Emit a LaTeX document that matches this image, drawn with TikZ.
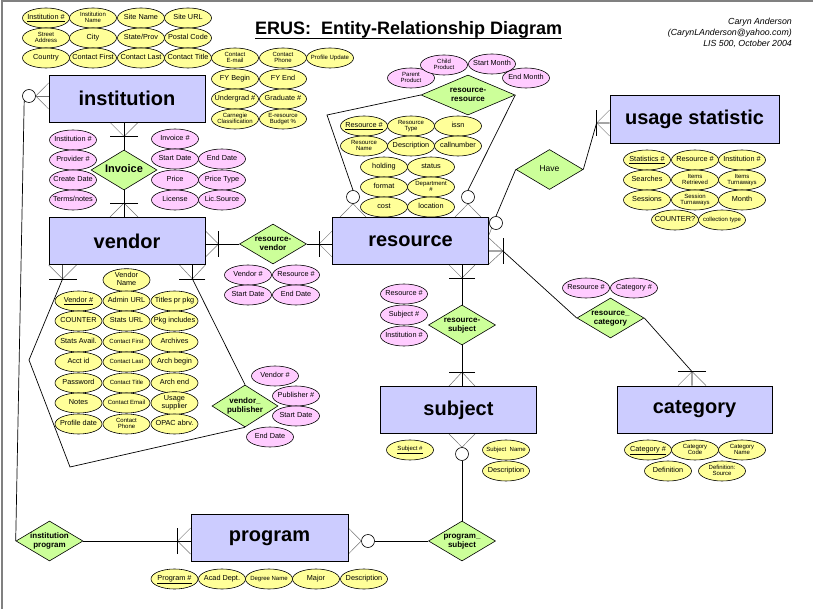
\documentclass[tikz,border=0pt]{standalone}
\usepackage{fontspec}
\setmainfont{Liberation Sans}
\usetikzlibrary{shapes.geometric,calc}
\definecolor{attrY}{HTML}{FFFF99}
\definecolor{attrP}{HTML}{FFCCFF}
\definecolor{entC}{HTML}{CCCCFF}
\definecolor{relC}{HTML}{CCFF99}
\pgfdeclarelayer{bg}
\pgfdeclarelayer{paper}
\pgfsetlayers{paper,bg,main}
\newcommand\zc[1]{\makebox[0pt]{\begin{tabular}{@{}c@{}}#1\end{tabular}}}
\newcommand\zs[1]{\makebox[0pt]{\fontsize{6}{6.6}\selectfont\begin{tabular}{@{}c@{}}#1\end{tabular}}}
\newcommand\cfoot[3]{\draw[cf] ($(#1)+(#3)$) -- (#2) -- ($(#1)-(#3)$); \draw[conn] ($(#2)+(#3)$) -- ($(#2)-(#3)$);}
\newcommand\cfootnb[3]{\draw[cf] ($(#1)+(#3)$) -- (#2) -- ($(#1)-(#3)$);}
\begin{document}
\begin{tikzpicture}[x=1pt,y=-1pt,
 attr/.style={ellipse, draw, line width=0.6pt, minimum width=47pt, minimum height=20pt, inner sep=0pt, font=\fontsize{7.3}{8}\selectfont},
 ya/.style={attr, fill=attrY}, pa/.style={attr, fill=attrP},
 ent/.style={rectangle, draw, line width=0.8pt, fill=entC, minimum width=156pt, minimum height=47pt, inner sep=0pt, font=\fontsize{20}{22}\selectfont\bfseries},
 rel/.style={diamond, draw, line width=0.6pt, fill=relC, minimum width=67pt, minimum height=40pt, inner sep=0pt, font=\fontsize{8}{9}\selectfont\bfseries},
 conn/.style={line width=0.7pt, draw=black},
 cf/.style={line width=0.5pt, draw=black!55},
 zerocirc/.style={circle, draw, line width=0.6pt, fill=white, minimum size=13pt, inner sep=0pt},
]
\useasboundingbox (0,0) rectangle (813,609);
\begin{pgfonlayer}{paper}
\fill[white] (0,0) rectangle (813,609);
\draw[gray, line width=1.6pt] (2,609) -- (2,1) -- (813,1);
\end{pgfonlayer}

% title and author
\node[anchor=base west, inner sep=0pt, font=\fontsize{18}{20}\selectfont\bfseries] (title) at (255,35) {ERUS:\ \ Entity-Relationship Diagram};
\draw[line width=1.3pt] ($(title.base west)+(0,3.5)$) -- ($(title.base east)+(0,3.5)$);
\node[anchor=base east, inner sep=0pt, font=\fontsize{8.8}{10}\selectfont\itshape] (au1) at (792,24.8) {Caryn Anderson};
\node[anchor=base east, inner sep=0pt, font=\fontsize{8.8}{10}\selectfont\itshape] (au2) at (792,35.8) {(CarynLAnderson@yahoo.com)};
\node[anchor=base east, inner sep=0pt, font=\fontsize{8.8}{10}\selectfont\itshape] (au3) at (792,46.6) {LIS 500, October 2004};

% institution attributes
\node[ya] (a1) at (46,18) {\zc{\underline{Institution \#}}};
\node[ya] (a2) at (93,18) {\zs{Institution\\Name}};
\node[ya] (a3) at (141,18) {\zc{Site Name}};
\node[ya] (a4) at (188,18) {\zc{Site URL}};
\node[ya] (a5) at (46,38) {\zs{Street\\Address}};
\node[ya] (a6) at (93,38) {\zc{City}};
\node[ya] (a7) at (141,38) {\zc{State/Prov}};
\node[ya] (a8) at (188,38) {\zc{Postal Code}};
\node[ya] (a9) at (46,58) {\zc{Country}};
\node[ya] (a10) at (93,58) {\zc{Contact First}};
\node[ya] (a11) at (141,58) {\zc{Contact Last}};
\node[ya] (a12) at (188,58) {\zc{Contact Title}};
\node[ya] (a13) at (235,58) {\zs{Contact\\E-mail}};
\node[ya] (a14) at (283,58) {\zs{Contact\\Phone}};
\node[ya] (a15) at (330,58) {\zs{Profile Update}};
\node[ya] (a16) at (235,79) {\zc{FY Begin}};
\node[ya] (a17) at (283,79) {\zc{FY End}};
\node[ya] (a18) at (235,99) {\zc{Undergrad \#}};
\node[ya] (a19) at (283,99) {\zc{Graduate \#}};
\node[ya] (a20) at (235,119) {\zs{Carnegie\\Classification}};
\node[ya] (a21) at (283,119) {\zs{E-resource\\Budget \%}};

% invoice attributes
\node[pa] (b1) at (73,140) {\zc{Institution \#}};
\node[pa] (b2) at (73,160) {\zc{Provider \#}};
\node[pa] (b3) at (73,180) {\zc{Create Date}};
\node[pa] (b4) at (73,200) {\zc{Terms/notes}};
\node[pa] (b5) at (175,139) {\zc{Invoice \#}};
\node[pa] (b6) at (175,159) {\zc{Start Date}};
\node[pa] (b7) at (222,159) {\zc{End Date}};
\node[pa] (b8) at (175,180) {\zc{Price}};
\node[pa] (b9) at (222,180) {\zc{Price Type}};
\node[pa] (b10) at (175,200) {\zc{License}};
\node[pa] (b11) at (222,200) {\zc{Lic.Source}};

% resource attributes
\node[ya] (r1) at (364,126) {\zc{\underline{Resource \#}}};
\node[ya] (r2) at (411,126) {\zs{Resource\\Type}};
\node[ya] (r3) at (458,126) {\zc{issn}};
\node[ya] (r4) at (364,146) {\zs{Resource\\Name}};
\node[ya] (r5) at (411,146) {\zc{Description}};
\node[ya] (r6) at (458,146) {\zc{callnumber}};
\node[ya] (r7) at (384,167) {\zc{holding}};
\node[ya] (r8) at (431,167) {\zc{status}};
\node[ya] (r9) at (384,187) {\zc{format}};
\node[ya] (r10) at (431,187) {\zs{Department\\\#}};
\node[ya] (r11) at (384,207) {\zc{cost}};
\node[ya] (r12) at (431,207) {\zc{location}};

% resource-resource attributes
\node[pa] (q1) at (411,78) {\zs{Parent\\Product}};
\node[pa] (q2) at (444,65) {\zs{Child\\Product}};
\node[pa] (q3) at (492,64) {\zc{Start Month}};
\node[pa] (q4) at (526,78) {\zc{End Month}};

% usage statistic attributes
\node[ya] (u1) at (647,160) {\zc{\underline{Statistics \#}}};
\node[ya] (u2) at (695,160) {\zc{Resource \#}};
\node[ya] (u3) at (742,160) {\zc{Institution \#}};
\node[ya] (u4) at (647,180) {\zc{Searches}};
\node[ya] (u5) at (695,180) {\zs{Items\\Retrieved}};
\node[ya] (u6) at (742,180) {\zs{Items\\Turnaways}};
\node[ya] (u7) at (647,200) {\zc{Sessions}};
\node[ya] (u8) at (695,200) {\zs{Session\\Turnaways}};
\node[ya] (u9) at (742,200) {\zc{Month}};
\node[ya] (u10) at (675,220) {\zc{COUNTER?}};
\node[ya] (u11) at (722,220) {\zs{collection type}};

% resource-vendor attributes
\node[pa] (v1) at (248,275) {\zc{Vendor \#}};
\node[pa] (v2) at (296,275) {\zc{Resource \#}};
\node[pa] (v3) at (248,295) {\zc{Start Date}};
\node[pa] (v4) at (296,295) {\zc{End Date}};

% vendor attributes
\node[ya] (w1) at (126.5,280) {\zc{Vendor\\Name}};
\node[ya] (w2) at (78.5,301) {\zc{\underline{Vendor \#}}};
\node[ya] (w3) at (126.5,301) {\zc{Admin URL}};
\node[ya] (w4) at (174.5,301) {\zc{Titles pr pkg}};
\node[ya] (w5) at (78.5,321) {\zc{COUNTER}};
\node[ya] (w6) at (126.5,321) {\zc{Stats URL}};
\node[ya] (w7) at (174.5,321) {\zc{Pkg includes}};
\node[ya] (w8) at (78.5,342) {\zc{Stats Avail.}};
\node[ya] (w9) at (126.5,342) {\zs{Contact First}};
\node[ya] (w10) at (174.5,342) {\zc{Archives}};
\node[ya] (w11) at (78.5,362) {\zc{Acct id}};
\node[ya] (w12) at (126.5,362) {\zs{Contact Last}};
\node[ya] (w13) at (174.5,362) {\zc{Arch begin}};
\node[ya] (w14) at (78.5,383) {\zc{Password}};
\node[ya] (w15) at (126.5,383) {\zs{Contact Title}};
\node[ya] (w16) at (174.5,383) {\zc{Arch end}};
\node[ya] (w17) at (78.5,403) {\zc{Notes}};
\node[ya] (w18) at (126.5,403) {\zs{Contact Email}};
\node[ya] (w19) at (174.5,403) {\zc{Usage\\supplier}};
\node[ya] (w20) at (78.5,424) {\zc{Profile date}};
\node[ya] (w21) at (126.5,424) {\zs{Contact\\Phone}};
\node[ya] (w22) at (174.5,424) {\zc{OPAC abrv.}};

% vendor_publisher attributes
\node[pa] (p1) at (275,376) {\zc{Vendor \#}};
\node[pa] (p2) at (296,396) {\zc{Publisher \#}};
\node[pa] (p3) at (296,416) {\zc{Start Date}};
\node[pa] (p4) at (270,437) {\zc{End Date}};

% resource-subject attributes
\node[pa] (s1) at (404,294) {\zc{Resource \#}};
\node[pa] (s2) at (404,315) {\zc{Subject \#}};
\node[pa] (s3) at (404,336) {\zc{Institution \#}};

% resource_category attributes
\node[pa] (k1) at (586,288) {\zc{Resource \#}};
\node[pa] (k2) at (634,288) {\zc{Category \#}};

% subject attributes
\node[ya] (j1) at (410,450) {\zs{\underline{Subject \#}}};
\node[ya] (j2) at (506,450) {\zs{Subject\ \ Name}};
\node[ya] (j3) at (506,471) {\zc{Description}};

% category attributes
\node[ya] (g1) at (648,450) {\zc{\underline{Category \#}}};
\node[ya] (g2) at (695,450) {\zs{Category\\Code}};
\node[ya] (g3) at (742,450) {\zs{Category\\Name}};
\node[ya] (g4) at (668,471) {\zc{Definition}};
\node[ya] (g5) at (722,471) {\zs{Definition:\\Source}};

% program attributes
\node[ya] (m1) at (174.5,579) {\zc{\underline{Program \#}}};
\node[ya] (m2) at (222,579) {\zc{Acad Dept.}};
\node[ya] (m3) at (269,579) {\zs{Degree Name}};
\node[ya] (m4) at (316,579) {\zc{Major}};
\node[ya] (m5) at (364,579) {\zc{Description}};

% entities
\node[ent] (inst) at (127,98.5) {institution};
\node[ent] (vend) at (127,241) {vendor};
\node[ent] (res) at (410.5,241) {resource};
\node[ent, minimum width=169pt, minimum height=48pt] (usage) at (694.5,119) {usage statistic};
\node[ent] (subj) at (458.5,410) {subject};
\node[ent, minimum width=155pt] (cat) at (694.5,409.5) {category};
\node[ent, minimum width=157pt] (prog) at (269.5,538) {program};

% relationships
\node[rel, minimum width=66pt, font=\fontsize{11}{12}\selectfont\bfseries] (inv) at (124,170) {\zc{Invoice}};
\node[rel] (rv) at (273,244) {\zc{resource-\\vendor}};
\node[rel, minimum width=94pt] (rr) at (468,95) {\zc{resource-\\resource}};
\node[rel, font=\fontsize{8.5}{9}\selectfont] (have) at (549.5,169.5) {\zc{Have}};
\node[rel] (rs) at (462,325) {\zc{resource-\\subject}};
\node[rel] (rc) at (610.5,318) {\zc{resource\_\\category}};
\node[rel, minimum width=66pt, minimum height=42pt] (vp) at (245,406) {\zc{vendor\_\\publisher}};
\node[rel] (ip) at (49.5,541) {\zc{institution\\program}};
\node[rel] (ps) at (462,541) {\zc{program\_\\subject}};

% optional-end circles
\node[zerocirc] (c1) at (29,96) {};
\node[zerocirc] (c2) at (353,197) {};
\node[zerocirc] (c3) at (468,197) {};
\node[zerocirc] (c4) at (496,223) {};
\node[zerocirc] (c5) at (462,454) {};
\node[zerocirc] (c6) at (368,541) {};

\begin{pgfonlayer}{bg}
% institution - invoice - vendor
\coordinate (e1) at (inv.north |- inst.south);
\coordinate (t1) at ($(e1)+(0,14)$);
\cfoot{e1}{t1}{14,0}
\draw[conn] (inv.north) -- (e1);
\coordinate (e2) at (inv.south |- vend.north);
\coordinate (t2) at ($(e2)+(0,-14)$);
\cfoot{e2}{t2}{14,0}
\draw[conn] (inv.south) -- (e2);
% vendor - resource-vendor - resource
\coordinate (e3) at (vend.east |- rv.west);
\coordinate (t3) at ($(e3)+(13,0)$);
\cfoot{e3}{t3}{0,13}
\draw[conn] (rv.west) -- (e3);
\coordinate (e4) at (res.west |- rv.east);
\coordinate (t4) at ($(e4)+(-13,0)$);
\cfoot{e4}{t4}{0,13}
\draw[conn] (rv.east) -- (e4);
% resource - resource-subject - subject
\coordinate (e5) at (rs.north |- res.south);
\coordinate (t5) at ($(e5)+(0,13)$);
\cfoot{e5}{t5}{13,0}
\draw[conn] (rs.north) -- (e5);
\coordinate (e6) at (rs.south |- subj.north);
\coordinate (t6) at ($(e6)+(0,-14)$);
\cfoot{e6}{t6}{13,0}
\draw[conn] (rs.south) -- (e6);
% subject - program_subject - program
\coordinate (e7) at (c5 |- subj.south);
\cfootnb{e7}{c5.north}{13,0}
\draw[conn] (c5.south) -- (ps.north);
\coordinate (e8) at (prog.east |- c6);
\cfootnb{e8}{c6.west}{0,13}
\draw[conn] (c6.east) -- (ps.west);
% institution - institution program - program
\coordinate (e9) at (prog.west |- ip.east);
\coordinate (t9) at ($(e9)+(-13,0)$);
\cfoot{e9}{t9}{0,13}
\draw[conn] (ip.east) -- (e9);
\coordinate (e10) at (inst.west |- c1);
\cfootnb{e10}{c1.east}{0,13}
\draw[cf] (c1.east) -- (e10);
\draw[conn] (c1.225) -- (ip.west);
% vendor - vendor_publisher loop
\coordinate (e11) at ($(vend.south west)+(14,0)$);
\coordinate (t11) at ($(e11)+(0,14)$);
\cfoot{e11}{t11}{14,0}
\coordinate (l1) at (29,360);
\coordinate (l2) at (70,467);
\draw[conn] (e11) -- (t11) -- (l1) -- (l2) -- (vp.south);
\coordinate (e12) at ($(vend.south east)+(-13,0)$);
\coordinate (t12) at ($(e12)+(0,14)$);
\cfoot{e12}{t12}{13,0}
\draw[conn] (e12) -- (t12) -- (vp.north);
% resource - resource-resource loop
\coordinate (e13) at (c2 |- res.north);
\cfootnb{e13}{c2.south}{13,0}
\coordinate (l3) at (327,115);
\draw[conn] (c2.north) -- (l3) -- (rr.west);
\coordinate (e14) at (c3 |- res.north);
\cfootnb{e14}{c3.south}{13,0}
\draw[conn] (c3.north) -- (rr.east);
% resource - Have - usage statistic
\coordinate (e15) at (res.east |- c4);
\draw[cf] ($(e15)+(0,-6)$) -- (c4.200);
\draw[cf] ($(e15)+(0,12)$) -- (c4.230);
\draw[conn] (c4.north) -- (have.west);
\coordinate (e16) at ($(usage.west)+(0,4)$);
\coordinate (t16) at ($(e16)+(-13,0)$);
\cfoot{e16}{t16}{0,13}
\draw[conn] (have.east) -- (t16) -- (e16);
% resource - resource_category - category
\coordinate (e17) at ($(res.east)+(0,10)$);
\coordinate (t17) at ($(e17)+(14,0)$);
\cfoot{e17}{t17}{0,13}
\draw[conn] (e17) -- (t17) -- (rc.west);
\coordinate (e18) at ($(cat.north)+(-2.5,0)$);
\coordinate (t18) at ($(e18)+(0,-14)$);
\cfoot{e18}{t18}{14,0}
\draw[conn] (rc.east) -- (t18) -- (e18);
\end{pgfonlayer}
\end{tikzpicture}
\end{document}
